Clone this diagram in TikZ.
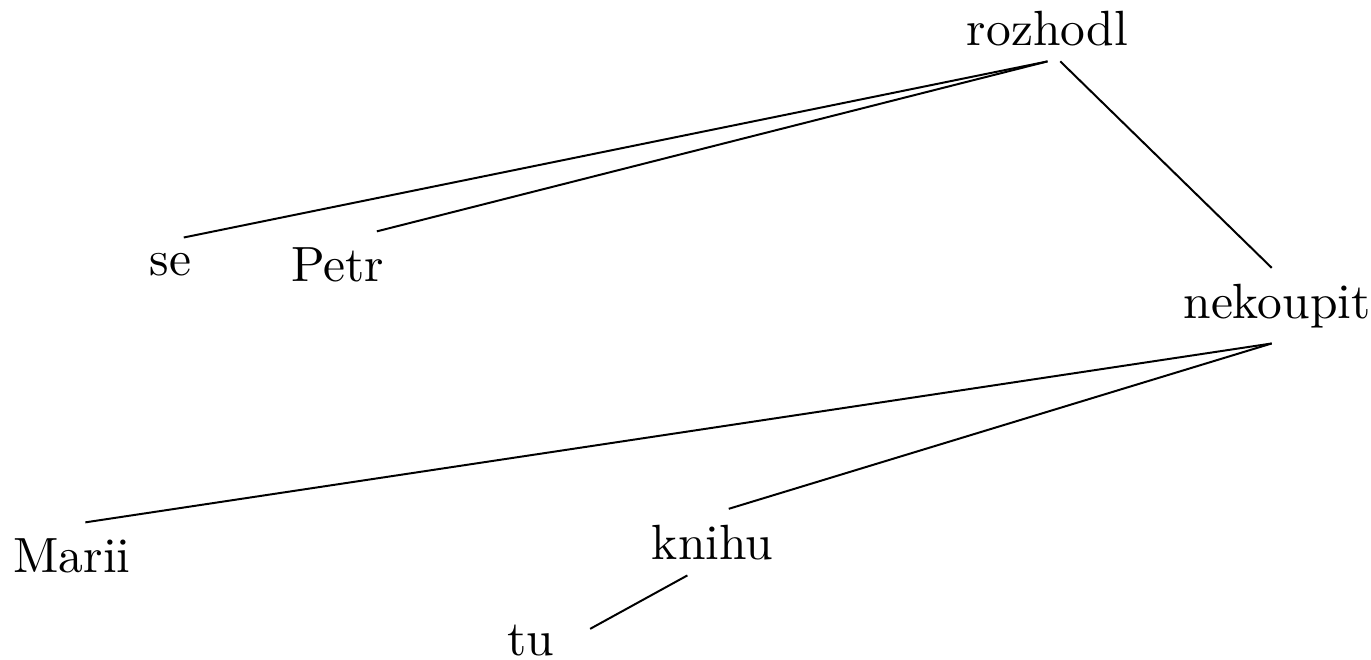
\documentclass[tikz,border=0pt]{standalone}
\usepackage{tikz}
\begin{document}
\begin{tikzpicture}[x=0.202pt,y=-0.202pt,
  wd/.style={inner sep=3pt,anchor=base},
  dp/.style={thin,black}]
  \useasboundingbox (0,0) rectangle (1371,659);
  \node[wd] (rozhodl) at (1047.5,45) {rozhodl};
  \node[wd] (se) at (170.5,275.5) {se};
  \node[wd] (petr) at (337.5,281) {Petr};
  \node[wd] (nekoupit) at (1277,318) {nekoupit};
  \node[wd] (marii) at (72,572) {Marii};
  \node[wd] (knihu) at (712.5,559) {knihu};
  \node[wd] (tu) at (530.5,655) {tu};
  \draw[dp] (rozhodl.south) -- (se.64);
  \draw[dp] (rozhodl.south) -- (petr.40);
  \draw[dp] (rozhodl.-69) -- (nekoupit.98);
  \draw[dp] (nekoupit.-98) -- (marii.68);
  \draw[dp] (nekoupit.-98) -- (knihu.64);
  \draw[dp,shorten >=4.7pt] (knihu.-127) -- (tu.east);
\end{tikzpicture}
\end{document}
